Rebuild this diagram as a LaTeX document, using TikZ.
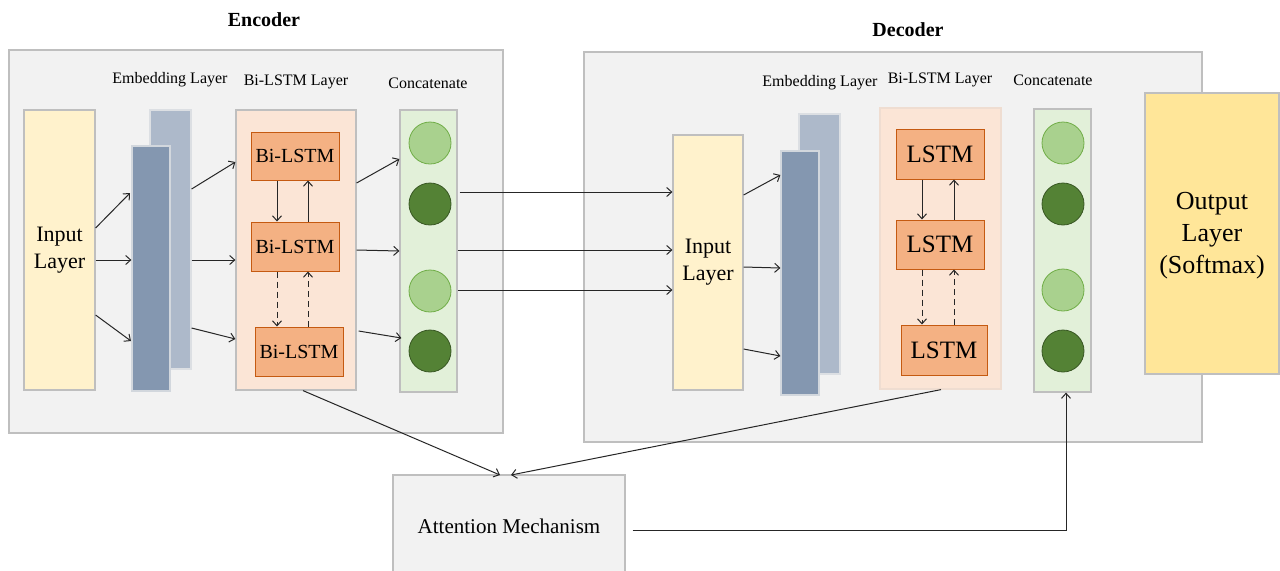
\documentclass[tikz,border=0pt]{standalone}
\usepackage{fontspec}
\setmainfont{Liberation Serif}
\usetikzlibrary{fit,arrows.meta}
\definecolor{bgc}{HTML}{F2F2F2}
\definecolor{bord}{HTML}{BFBFBF}
\definecolor{inpf}{HTML}{FFF2CC}
\definecolor{embl}{HTML}{ADB9CA}
\definecolor{embd}{HTML}{8497B0}
\definecolor{layf}{HTML}{FBE5D6}
\definecolor{lstmf}{HTML}{F4B183}
\definecolor{lstmb}{HTML}{C55A11}
\definecolor{catf}{HTML}{E2F0D9}
\definecolor{cirl}{HTML}{A9D18E}
\definecolor{cirlb}{HTML}{70AD47}
\definecolor{cird}{HTML}{548235}
\definecolor{cirdb}{HTML}{385723}
\definecolor{outf}{HTML}{FFE699}
\definecolor{arrc}{HTML}{262626}
\begin{document}
\begin{tikzpicture}[x=0.5pt,y=-0.5pt,
  outerbox/.style={draw=bord, fill=bgc, line width=0.7pt, inner sep=0pt},
  plainbox/.style={draw=bord, line width=0.6pt, inner sep=0pt, align=center},
  lstmbox/.style={draw=lstmb, fill=lstmf, line width=0.5pt, inner sep=0pt},
  circl/.style={circle, draw=cirlb, fill=cirl, line width=0.4pt, minimum size=21pt, inner sep=0pt},
  circd/.style={circle, draw=cirdb, fill=cird, line width=0.4pt, minimum size=21pt, inner sep=0pt},
  arr/.style={-{Straight Barb[length=2.5pt,width=4.5pt]}, line width=0.5pt, draw=arrc},
  darr/.style={arr, dashed, dash pattern=on 3pt off 2pt},
  smalllab/.style={font=\fontsize{8}{9}\selectfont, inner sep=0pt},
  title/.style={font=\fontsize{10}{12}\selectfont\bfseries, inner sep=0pt}
]
\useasboundingbox[fill=white] (0,0) rectangle (1280,570);

% ---------- Encoder ----------
\node[title] (encT) at (264,20) {Encoder};
\node[outerbox, fit={(9,50)(503,433)}] (enc) {};
\node[smalllab] (encEL) at (170,80) {Embedding Layer};
\node[smalllab] (encBL) at (296,82) {Bi-LSTM Layer};
\node[smalllab] (encCL) at (428,83) {Concatenate};

\node[plainbox, fill=inpf, fit={(24,110)(95,390)}] (encIn) {};
\node[align=center, font=\fontsize{11}{13.5}\selectfont, inner sep=0pt] (encInT) at (encIn.center) {Input\\Layer};
\node[plainbox, draw=embl!80!black!30, fill=embl, fit={(150,110)(191,369)}] (encEb) {};
\node[plainbox, draw=embd!80!black!30, fill=embd, fit={(132,146)(170,391)}] (encEf) {};

\node[plainbox, fill=layf, fit={(236,110)(356,390)}] (encL) {};
\node[lstmbox, fit={(251,132)(339,180)}] (e1) {};
\node[lstmbox, fit={(251,222)(339,271)}] (e2) {};
\node[lstmbox, fit={(255,327)(343,376)}] (e3) {};
\node[font=\fontsize{10}{12}\selectfont, inner sep=0pt] at (e1.center) {Bi-LSTM};
\node[font=\fontsize{10}{12}\selectfont, inner sep=0pt] at (e2.center) {Bi-LSTM};
\node[font=\fontsize{10}{12}\selectfont, inner sep=0pt] at (e3.center) {Bi-LSTM};

\node[plainbox, fill=catf, fit={(400,110)(457,392)}] (encC) {};
\node[circl] (ec1) at (430,143) {};
\node[circd] (ec2) at (430,204) {};
\node[circl] (ec3) at (430,291) {};
\node[circd] (ec4) at (430,351) {};

% encoder arrows
\draw[arr] (encIn.east |- 0,228) -- (130,193);
\draw[arr] (encIn.east |- 0,260) -- (encEf.west |- 0,260);
\draw[arr] (encIn.east |- 0,315) -- (131,341);
\draw[arr] (encEb.east |- 0,189) -- (encL.west |- 0,162);
\draw[arr] (encEb.east |- 0,260) -- (encL.west |- 0,260);
\draw[arr] (encEb.east |- 0,328) -- (encL.west |- 0,339);
\draw[arr] (e1.south -| 277,0) -- (e2.north -| 277,0);
\draw[arr] (e2.north -| 308,0) -- (e1.south -| 308,0);
\draw[darr] (e2.south -| 277,0) -- (e3.north -| 277,0);
\draw[darr] (e3.north -| 308,0) -- (e2.south -| 308,0);
\draw[arr] (encL.east |- 0,183) -- (encC.west |- 0,159);
\draw[arr] (encL.east |- 0,250) -- (encC.west |- 0,251);
\draw[arr] ([xshift=1pt]encL.east |- 0,331) -- ([xshift=1pt]encC.west |- 0,338);

% ---------- Decoder ----------
\node[title] (decT) at (908,30) {Decoder};
\node[outerbox, fit={(584,52)(1202,442)}] (dec) {};
\node[smalllab] (decEL) at (820,83) {Embedding Layer};
\node[smalllab] (decBL) at (940,80) {Bi-LSTM Layer};
\node[smalllab] (decCL) at (1053,80) {Concatenate};

\node[plainbox, fill=inpf, fit={(673,135)(743,390)}] (decIn) {};
\node[align=center, font=\fontsize{11}{13.5}\selectfont, inner sep=0pt] (decInT) at (decIn.center) {Input\\Layer};
\node[plainbox, draw=embl!80!black!30, fill=embl, fit={(799,114)(840,374)}] (decEb) {};
\node[plainbox, draw=embd!80!black!30, fill=embd, fit={(781,151)(819,395)}] (decEf) {};

\node[plainbox, draw=layf!80!bord, fill=layf, fit={(880,108)(1001,389)}] (decL) {};
\node[lstmbox, fit={(896,129)(984,179)}] (d1) {};
\node[lstmbox, fit={(896,220)(984,269)}] (d2) {};
\node[lstmbox, fit={(901,325)(987,375)}] (d3) {};
\node[font=\fontsize{12.5}{14}\selectfont, inner sep=0pt] at (d1.center) {LSTM};
\node[font=\fontsize{12.5}{14}\selectfont, inner sep=0pt] at (d2.center) {LSTM};
\node[font=\fontsize{12.5}{14}\selectfont, inner sep=0pt] at (d3.center) {LSTM};

\node[plainbox, fill=catf, fit={(1034,109)(1091,392)}] (decC) {};
\node[circl] (dc1) at (1063,143) {};
\node[circd] (dc2) at (1063,204) {};
\node[circl] (dc3) at (1063,290) {};
\node[circd] (dc4) at (1063,351) {};

\node[plainbox, fill=outf, fit={(1145,93)(1279,374)}] (outL) {};
\node[align=center, font=\fontsize{13}{16}\selectfont, inner sep=0pt] (outT) at (1212,236) {Output\\Layer\\(Softmax)};

% decoder arrows
\draw[arr] (decIn.east |- 0,195) -- (decEf.west |- 0,175);
\draw[arr] (decIn.east |- 0,267) -- (decEf.west |- 0,268);
\draw[arr] (decIn.east |- 0,349) -- (decEf.west |- 0,356);
\draw[arr] (d1.south -| 922,0) -- (d2.north -| 922,0);
\draw[arr] (d2.north -| 954,0) -- (d1.south -| 954,0);
\draw[darr] (d2.south -| 922,0) -- (d3.north -| 922,0);
\draw[darr] (d3.north -| 954,0) -- (d2.south -| 954,0);

% encoder -> decoder
\draw[arr] ([xshift=1pt]encC.east |- 0,192) -- (decIn.west |- 0,192);
\draw[arr] (encC.east |- 0,250) -- (decIn.west |- 0,250);
\draw[arr] (encC.east |- 0,290) -- (decIn.west |- 0,290);

% ---------- Attention ----------
\node[plainbox, fill=bgc, fit={(393,475)(625,577)}] (attn) {};
\node[font=\fontsize{10.5}{12}\selectfont, inner sep=0pt] (attnT) at (509,526) {Attention Mechanism};
\coordinate (attnIn1) at (500,475);
\coordinate (attnIn2) at (511,475);
\draw[arr] (encL.south -| 303,0) -- (attnIn1);
\draw[arr] (decL.south -| 941,0) -- (attnIn2);
\coordinate (turn) at (1066,530);
\draw[arr] ([xshift=3.5pt]attn.east |- turn) -- (turn) -- (decC.south -| turn);
\end{tikzpicture}
\end{document}
